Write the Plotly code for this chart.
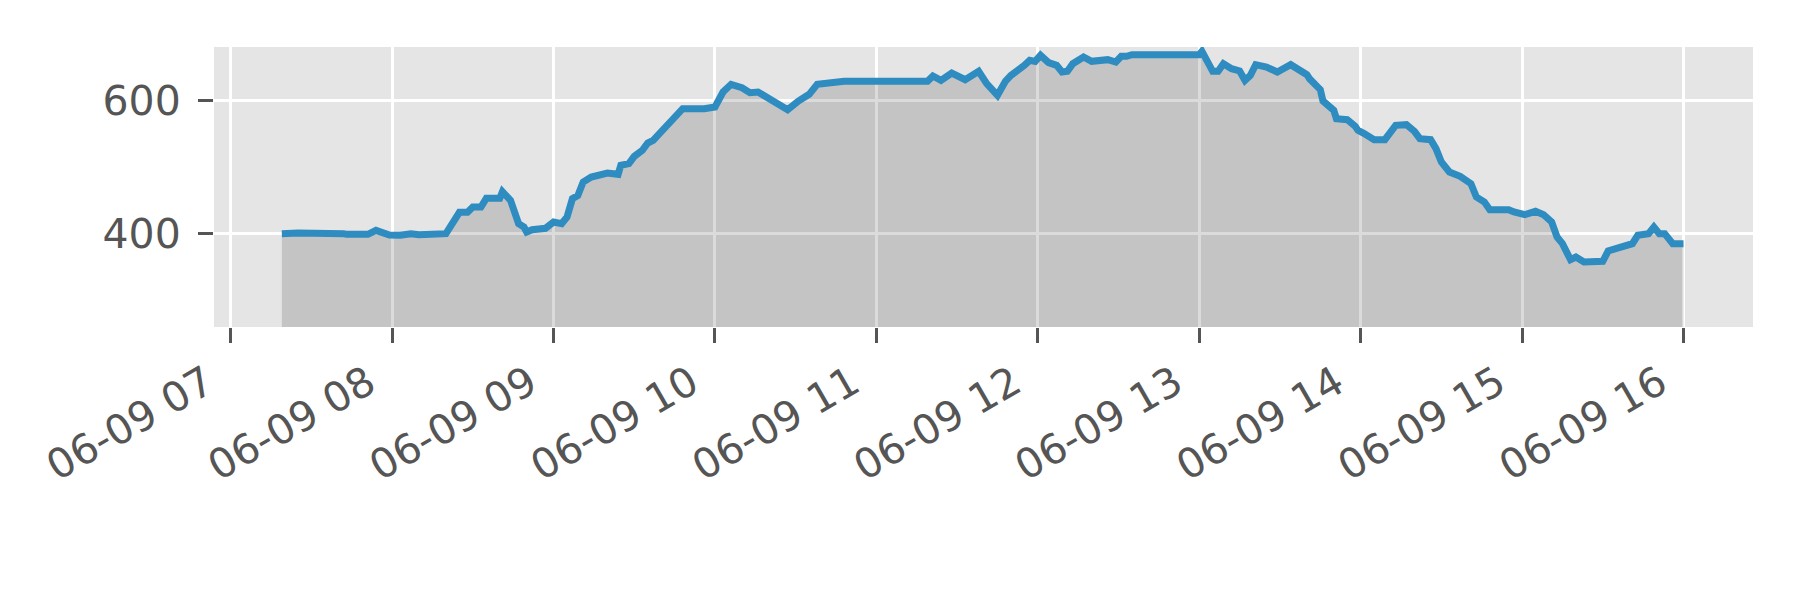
import plotly.graph_objects as go

DAY = "2023-06-09"

times = [
    "07:19", "07:25", "07:42", "07:43", "07:51", "07:54", "07:59", "08:03", "08:07", "08:10",
    "08:20", "08:25", "08:28", "08:30", "08:33", "08:35", "08:40", "08:41", "08:44", "08:47",
    "08:49", "08:50", "08:52", "08:55", "08:57", "09:00", "09:03", "09:05", "09:07", "09:09",
    "09:11", "09:14", "09:17", "09:20", "09:24", "09:25", "09:28", "09:30", "09:33", "09:35",
    "09:37", "09:41", "09:44", "09:48", "09:56", "10:00", "10:03", "10:06", "10:10", "10:13",
    "10:16", "10:19", "10:24", "10:27", "10:31", "10:35", "10:38", "10:44", "10:48", "11:19",
    "11:21", "11:24", "11:28", "11:33", "11:38", "11:41", "11:45", "11:48", "11:50", "11:55",
    "11:57", "11:59", "12:01", "12:04", "12:07", "12:09", "12:11", "12:13", "12:17", "12:20",
    "12:23", "12:26", "12:29", "12:31", "12:33", "12:35", "13:00", "13:01", "13:05", "13:07",
    "13:09", "13:12", "13:15", "13:17", "13:19", "13:21", "13:25", "13:29", "13:34", "13:36",
    "13:40", "13:41", "13:43", "13:45", "13:46", "13:50", "13:51", "13:55", "13:58", "13:59",
    "14:01", "14:05", "14:09", "14:13", "14:17", "14:20", "14:22", "14:26", "14:28", "14:30",
    "14:33", "14:37", "14:41", "14:43", "14:46", "14:48", "14:55", "14:57", "15:01", "15:05",
    "15:08", "15:11", "15:13", "15:15", "15:18", "15:20", "15:23", "15:30", "15:32", "15:36",
    "15:41", "15:43", "15:47", "15:49", "15:51", "15:53", "15:56", "16:00",
]

values = [
    400, 401, 400, 399, 399, 405, 398, 397.5, 400, 398.5,
    400, 432, 432, 440, 440, 453, 453, 463, 450, 415,
    410, 402.5, 406, 406, 408, 417.5, 415, 425, 452.5, 457,
    477.5, 485, 487.5, 491, 489, 502.5, 505, 516, 525, 536,
    540, 557.5, 567.5, 587.5, 587.5, 590, 612.5, 624, 619, 611.5,
    612.5, 605, 594, 586, 599, 609, 624, 626.5, 628.5, 628.5,
    636.5, 630, 641, 631, 643.5, 625, 607.5, 629, 637.5, 652.5,
    660, 658.5, 667.5, 656.5, 652.5, 642.5, 643.5, 655, 665, 658.5,
    658.5, 661, 657.5, 666, 666, 668.5, 668.5, 673.5, 643.5, 643.5,
    655, 647.5, 644, 630, 637.5, 653.5, 650, 642.5, 653.5, 649,
    638.5, 632.5, 625, 616, 599, 585, 572.5, 571, 561, 555,
    551, 541, 541, 562.5, 563.5, 553.5, 542.5, 541, 527.5, 507.5,
    492.5, 486, 475, 455, 447.5, 436, 436, 432.5, 428.5, 433.5,
    428.5, 417.5, 395, 385, 361, 365, 357.5, 358.5, 374, 380,
    385, 397.5, 400, 410, 400, 400, 385, 385,
]

x_range = ["2023-06-09 06:53:47", "2023-06-09 16:25:50"]
y_range = [260, 680]
y_ticks = [400, 600]

x = [f"{DAY} {t}" for t in times]

fig = go.Figure()
fig.add_trace(go.Scatter(
    x=x, y=values, mode="lines",
    fill="tozeroy", fillcolor="rgba(0,0,0,0.14)",
    line=dict(color="#2E8CC0", width=7),
    showlegend=False,
))

font = dict(family="DejaVu Sans", size=41, color="#555555")

fig.update_layout(
    width=1800, height=600,
    margin=dict(l=206, r=55, t=39, b=281),
    paper_bgcolor="white",
    plot_bgcolor="#E5E5E5",
    font=font,
)
fig.update_xaxes(
    range=x_range, type="date",
    dtick=3600000, tick0="2023-06-09 07:00",
    tickformat="%m-%d %H", tickangle=-30,
    ticks="outside", ticklen=15, tickwidth=3, tickcolor="#555555",
    ticklabelshift=-24,
    showgrid=True, gridcolor="white", gridwidth=2.5,
    zeroline=False, showline=False,
    tickfont=font,
)
fig.update_yaxes(
    range=y_range, tickvals=y_ticks,
    ticks="outside", ticklen=15, tickwidth=3, tickcolor="#555555",
    ticklabelstandoff=9,
    showgrid=True, gridcolor="white", gridwidth=2.5,
    zeroline=False, showline=False,
    tickfont=font,
)

fig.write_html("out.html")
